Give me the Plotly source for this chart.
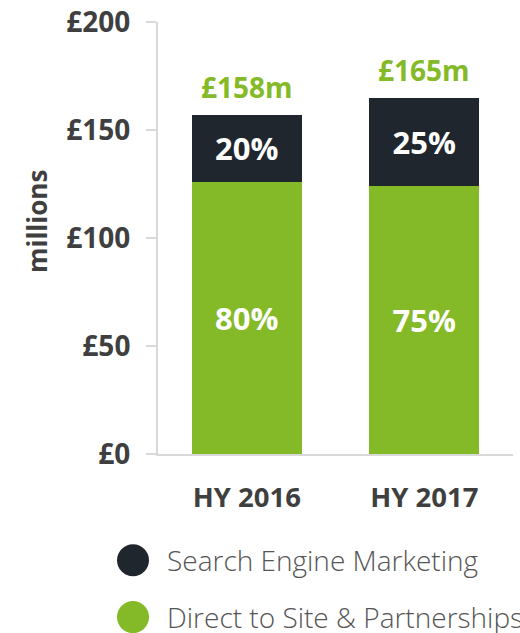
import plotly.graph_objects as go

categories = ["HY 2016", "HY 2017"]
direct_values = [126, 124]
search_values = [31, 41]
direct_pct = ["80%", "75%"]
search_pct = ["20%", "25%"]
total_labels = ["£158m", "£165m"]
tick_vals = [0, 50, 100, 150, 200]
tick_text = ["£0", "£50", "£100", "£150", "£200"]
legend_names = ["Search Engine Marketing", "Direct to Site & Partnerships"]
y_title = "millions"

GREEN = "#84ba27"
DARK = "#1f262d"
AXIS = "#d9d9d9"
TXT = "#3f3f3f"
FONT = "Open Sans"

fig = go.Figure()
fig.add_trace(go.Bar(
    x=categories, y=direct_values, name=legend_names[1], marker_color=GREEN,
    marker_line_width=0, text=direct_pct, textposition="inside",
    insidetextanchor="middle", constraintext="none",
    textfont=dict(family=FONT, size=31, color="white", weight=700),
    showlegend=False, hoverinfo="skip"))
fig.add_trace(go.Bar(
    x=categories, y=search_values, name=legend_names[0], marker_color=DARK,
    marker_line_width=0, text=search_pct, textposition="inside",
    insidetextanchor="middle", constraintext="none",
    textfont=dict(family=FONT, size=31, color="white", weight=700),
    showlegend=False, hoverinfo="skip"))

totals = [d + s for d, s in zip(direct_values, search_values)]
for c, t, lab in zip(categories, totals, total_labels):
    fig.add_annotation(x=c, y=t, text=lab, showarrow=False, yanchor="bottom",
                       yshift=7, font=dict(family=FONT, size=28, color=GREEN, weight=700))

plot_top, plot_bottom, plot_left, plot_right = 21.5, 454.5, 158, 513
ph = plot_bottom - plot_top
pw = plot_right - plot_left
legend_colors = [DARK, GREEN]
legend_y = [561, 618]
for name, col, py in zip(legend_names, legend_colors, legend_y):
    yp = (plot_bottom - py) / ph
    xp = (133 - plot_left) / pw
    fig.add_shape(type="circle", xref="paper", yref="paper", xsizemode="pixel",
                  ysizemode="pixel", xanchor=xp, yanchor=yp,
                  x0=-16, x1=16, y0=-16, y1=16, line_width=0, fillcolor=col)
    fig.add_annotation(xref="paper", yref="paper", x=(165 - plot_left) / pw, y=yp,
                       xanchor="left", yanchor="middle", text=name, showarrow=False,
                       font=dict(family=FONT, size=28, color="#555555", weight=300))

# y-axis title placed as rotated annotation
fig.add_annotation(xref="paper", yref="paper", x=(36.5 - plot_left) / pw,
                   y=(plot_bottom - 221.5) / ph, xanchor="center", yanchor="middle",
                   textangle=-90, text=y_title, showarrow=False,
                   font=dict(family=FONT, size=26, color=TXT, weight=700))

fig.update_layout(
    width=520, height=633,
    margin=dict(l=plot_left, r=520 - plot_right, t=plot_top, b=633 - plot_bottom, pad=0),
    barmode="stack", bargap=0.38,
    plot_bgcolor="white", paper_bgcolor="white",
    showlegend=False,
    font=dict(family=FONT, color=TXT),
)
fig.update_yaxes(
    range=[0, 200], tickvals=tick_vals, ticktext=tick_text, automargin=False,
    showgrid=False, zeroline=False, showline=True, linecolor=AXIS, linewidth=2,
    ticks="outside", ticklen=10, tickcolor=AXIS, tickwidth=2,
    ticklabelstandoff=10,
    tickfont=dict(family=FONT, size=28, color=TXT, weight=700),
)
fig.update_xaxes(
    showgrid=False, zeroline=False, showline=True, linecolor=AXIS, linewidth=2,
    ticks="", ticklabelstandoff=18, automargin=False,
    tickfont=dict(family=FONT, size=27.5, color=TXT, weight=700),
)

fig.write_html("out.html", config={"displayModeBar": False},
               post_script="document.body.style.margin='0';document.body.style.overflow='hidden';")
